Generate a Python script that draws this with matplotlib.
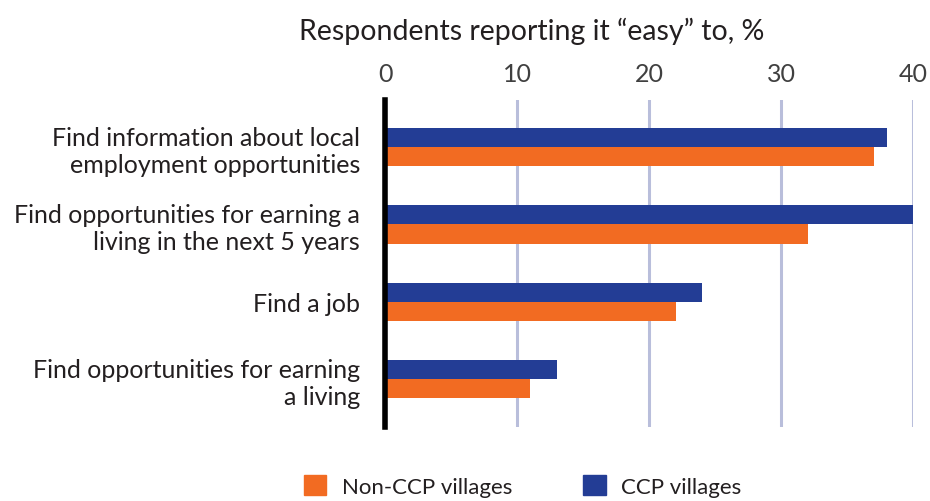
import numpy as np
import matplotlib.pyplot as plt
from matplotlib.patches import Patch

plt.rcParams['font.family'] = ['Lato', 'DejaVu Sans']

categories = ['Find information about local\nemployment opportunities',
              'Find opportunities for earning a\nliving in the next 5 years',
              'Find a job',
              'Find opportunities for earning\na living']
ccp = [38, 40, 24, 13]
non_ccp = [37, 32, 22, 11]
ticks = [0, 10, 20, 30, 40]

navy = '#233d95'
orange = '#f26b22'
grid_col = '#b9bedb'
text_col = '#231f20'

fig = plt.figure(figsize=(9.3, 5.02), dpi=100)
ax = fig.add_axes([0.414, 0.147, 0.568, 0.652])

y = np.arange(len(categories))
h = 0.246
ax.barh(y - h / 2, ccp, height=h, color=navy, zorder=3)
ax.barh(y + h / 2, non_ccp, height=h, color=orange, zorder=3)

ax.set_xlim(0, 40)
ax.set_ylim(3.62, -0.61)
ax.set_xticks(ticks)
ax.xaxis.tick_top()
ax.tick_params(axis='x', length=0, pad=11, labelsize=18, colors='#404040')
ax.set_yticks(y)
ax.set_yticklabels(categories, ha='right', fontsize=18, color=text_col, linespacing=1.2)
ax.tick_params(axis='y', length=0, pad=18)
ax.grid(axis='x', color=grid_col, linewidth=2.2, zorder=0)
for s in ['top', 'right', 'bottom']:
    ax.spines[s].set_visible(False)
ax.spines['left'].set_linewidth(4)
ax.spines['left'].set_color('black')
ax.spines['left'].set_zorder(4)

fig.text(0.572, 0.938, 'Respondents reporting it \u201ceasy\u201d to, %',
         ha='center', va='center', fontsize=20.5, color=text_col)

handles = [Patch(color=orange, label='Non-CCP villages'),
           Patch(color=navy, label='CCP villages')]
fig.legend(handles=handles, loc='center', bbox_to_anchor=(0.562, 0.03), ncol=2,
           frameon=False, fontsize=16, handlelength=1.0, handleheight=1.0,
           columnspacing=3.2, handletextpad=0.7, labelcolor=text_col)

fig.savefig('out.png', dpi=100)
